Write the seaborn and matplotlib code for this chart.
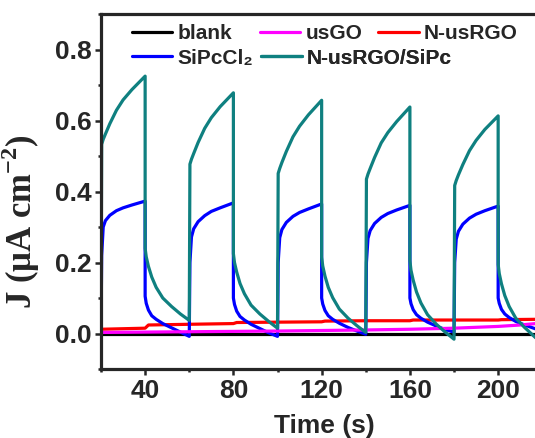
import seaborn as sns
import matplotlib.pyplot as plt
from matplotlib.ticker import MultipleLocator
from matplotlib.lines import Line2D

# light on 20-40 s, off 40-60 s, and so on (5 cycles)
time_s = [20, 20.3, 21, 22, 24, 27, 30, 34, 40, 40, 40.5, 41.5, 43, 45, 48, 52, 56,
          60, 60.3, 61, 62, 64, 67, 70, 74, 80, 80, 80.5, 81.5, 83, 85, 88, 92, 96,
          100, 100.3, 101, 102, 104, 107, 110, 114, 120, 120, 120.5, 121.5, 123, 125, 128, 132, 136,
          140, 140.3, 141, 142, 144, 147, 150, 154, 160, 160, 160.5, 161.5, 163, 165, 168, 172, 176,
          180, 180.3, 181, 182, 184, 187, 190, 194, 200, 200, 200.5, 201.5, 203, 205, 208, 212, 217]

j_sipccl2 = [-0.005, 0.22, 0.30, 0.318, 0.333, 0.346, 0.354, 0.362, 0.373,
             0.105, 0.085, 0.066, 0.050, 0.040, 0.028, 0.016, 0.004,
             -0.008, 0.20, 0.272, 0.295, 0.315, 0.332, 0.344, 0.354, 0.368,
             0.100, 0.082, 0.063, 0.048, 0.038, 0.026, 0.014, 0.002,
             -0.008, 0.20, 0.270, 0.293, 0.313, 0.330, 0.341, 0.351, 0.365,
             0.100, 0.083, 0.065, 0.050, 0.040, 0.029, 0.017, 0.007,
             -0.002, 0.20, 0.268, 0.290, 0.310, 0.327, 0.338, 0.348, 0.361,
             0.100, 0.084, 0.067, 0.053, 0.043, 0.032, 0.021, 0.011,
             0.004, 0.20, 0.266, 0.288, 0.308, 0.325, 0.336, 0.346, 0.359,
             0.100, 0.085, 0.068, 0.055, 0.045, 0.034, 0.024, 0.013]

j_hybrid = [0.010, 0.533, 0.547, 0.562, 0.591, 0.629, 0.658, 0.687, 0.725,
            0.240, 0.216, 0.189, 0.159, 0.130, 0.100, 0.076, 0.055,
            0.037, 0.477, 0.491, 0.507, 0.538, 0.578, 0.608, 0.639, 0.678,
            0.225, 0.200, 0.173, 0.141, 0.112, 0.080, 0.055, 0.034,
            0.015, 0.451, 0.465, 0.482, 0.513, 0.554, 0.584, 0.616, 0.657,
            0.215, 0.190, 0.162, 0.130, 0.101, 0.069, 0.043, 0.022,
            0.003, 0.435, 0.449, 0.465, 0.496, 0.537, 0.566, 0.597, 0.638,
            0.205, 0.178, 0.150, 0.117, 0.086, 0.053, 0.026, 0.004,
            -0.016, 0.417, 0.431, 0.447, 0.476, 0.515, 0.544, 0.575, 0.613,
            0.195, 0.169, 0.140, 0.107, 0.076, 0.043, 0.017, -0.012]

rgo_t = [20, 40, 41.5, 60, 80, 81.5, 100, 120, 121.5, 140, 160, 161.5, 180, 200, 201.5, 217]
rgo_j = [0.012, 0.015, 0.024, 0.026, 0.028, 0.031, 0.032, 0.033, 0.035, 0.036,
         0.036, 0.038, 0.038, 0.038, 0.039, 0.040]

usgo_t = [20, 60, 100, 140, 160, 180, 200, 210, 217]
usgo_j = [0.003, 0.005, 0.007, 0.010, 0.012, 0.015, 0.020, 0.024, 0.028]

blank_t = [20, 217]
blank_j = [0.0, 0.0]

names = ['blank', 'usGO', 'N-usRGO', 'SiPcCl₂', 'N-usRGO/SiPc']
colors = ['black', '#ff00ff', '#ff0000', '#0000ff', '#0f8080']

sns.set_style('ticks')
plt.rcParams['font.family'] = ['Liberation Sans', 'DejaVu Sans']
plt.rcParams['font.weight'] = 'bold'
plt.rcParams['mathtext.fontset'] = 'custom'
plt.rcParams['mathtext.rm'] = 'Liberation Serif:bold'
plt.rcParams['mathtext.bf'] = 'Liberation Serif:bold'

fig = plt.figure(figsize=(5.35, 4.38), dpi=100)
ax = fig.add_axes([0.1888, 0.1575, 0.8112, 0.8105])

lw = 2.3
sns.lineplot(x=blank_t, y=blank_j, color=colors[0], lw=lw, estimator=None, sort=False, ax=ax)
sns.lineplot(x=rgo_t, y=rgo_j, color=colors[2], lw=lw, estimator=None, sort=False, ax=ax)
sns.lineplot(x=time_s, y=j_sipccl2, color=colors[3], lw=lw, estimator=None, sort=False, ax=ax)
sns.lineplot(x=usgo_t, y=usgo_j, color=colors[1], lw=lw, estimator=None, sort=False, ax=ax)
sns.lineplot(x=time_s, y=j_hybrid, color=colors[4], lw=lw, estimator=None, sort=False, ax=ax)

ax.set_xlim(20, 216.7)
ax.set_ylim(-0.1, 0.9)
ax.xaxis.set_major_locator(MultipleLocator(40))
ax.xaxis.set_minor_locator(MultipleLocator(20))
ax.yaxis.set_major_locator(MultipleLocator(0.2))
ax.yaxis.set_minor_locator(MultipleLocator(0.1))
ax.yaxis.set_major_formatter(plt.FormatStrFormatter('%.1f'))

for side in ['left', 'bottom', 'top']:
    ax.spines[side].set_linewidth(2.3)
ax.spines['right'].set_visible(False)
ax.tick_params(which='major', direction='out', length=4.5, width=1.8, labelsize=19, pad=2.5,
               top=False, right=False)
ax.tick_params(which='minor', direction='out', length=2.5, width=1.8, top=False, right=False)
for lab in ax.get_xticklabels() + ax.get_yticklabels():
    lab.set_fontweight('bold')

ax.set_xlabel('Time (s)', fontsize=19, fontweight='bold')
ax.xaxis.set_label_coords(0.514, -0.128)
ax.set_ylabel('J (μA cm$^{\\mathbf{-2}}$)', fontsize=25, fontweight='bold',
              family=['Liberation Serif', 'DejaVu Serif'])
ax.yaxis.set_label_coords(-0.135, 0.414)

# legend laid out like the original: two rows, entries placed individually
anchors = [(0.071, 0.944), (0.366, 0.944), (0.638, 0.944), (0.071, 0.876), (0.369, 0.876)]
for name, color, anchor in zip(names, colors, anchors):
    handle = Line2D([], [], color=color, lw=lw)
    leg = ax.legend([handle], [name], loc='center left', bbox_to_anchor=anchor, frameon=False,
                    borderpad=0, borderaxespad=0, handlelength=1.95, handletextpad=0.25,
                    prop={'size': 15, 'weight': 'bold'})
    ax.add_artist(leg)

fig.savefig('out.png', dpi=100)
